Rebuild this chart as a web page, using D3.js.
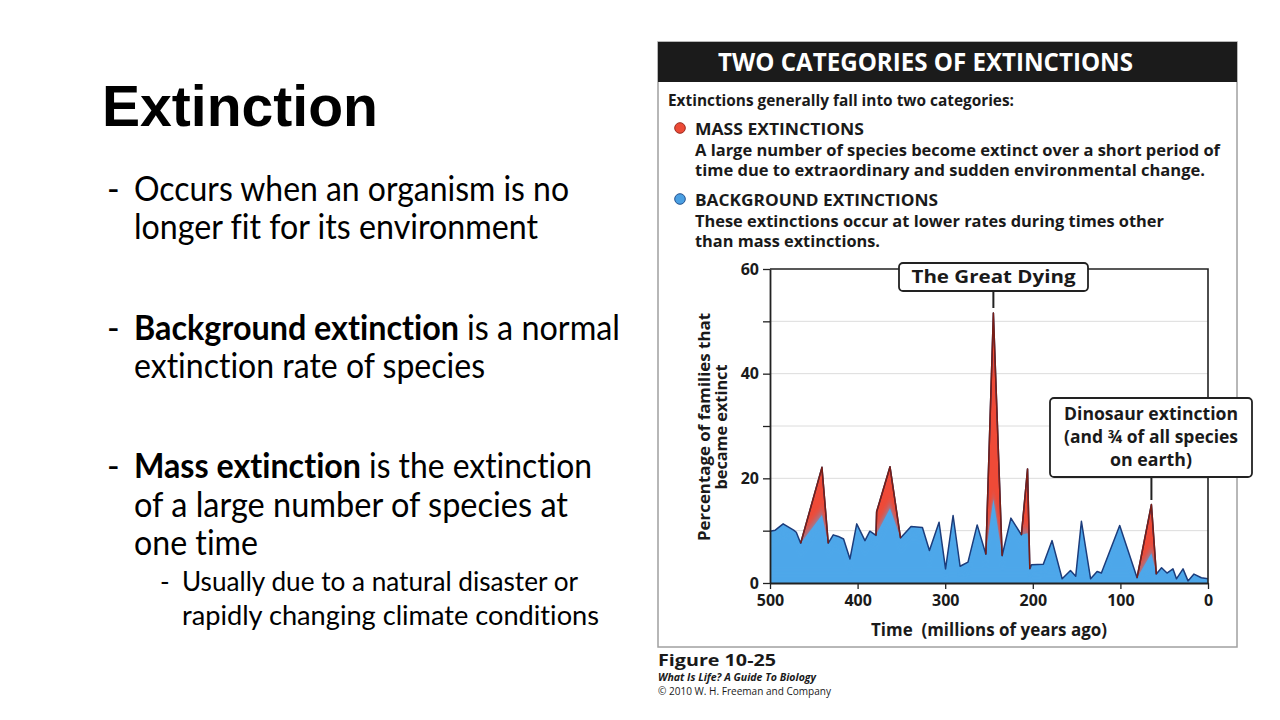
<!DOCTYPE html>
<html><head><meta charset="utf-8">
<script src="https://cdn.jsdelivr.net/npm/d3@7"></script>
<style>body{margin:0;background:#fff;} svg{display:block;} text{font-variant-ligatures:none;font-feature-settings:"liga" 0,"dlig" 0,"clig" 0;}</style>
</head><body>
<svg id="s" width="1280" height="720"></svg>
<script>
// ---------- data ----------
const timeMya = [500, 494, 485, 473, 470, 465, 440.7, 433.5, 427.8, 422, 416, 408.7, 401, 391.6, 386, 379, 378.3, 363, 351, 339, 326, 318, 307, 299.6, 291, 283, 274, 263.5, 253.6, 245, 235, 225, 213, 206, 203.4, 201.5, 188, 178, 166.5, 157, 151, 144.5, 134, 126.6, 121.7, 100.8, 81, 64.6, 59, 53, 46.8, 40, 36, 28.5, 22.8, 16, 7.6, 0];
const totalPct = [9.9, 10.1, 11.3, 10.1, 9.7, 7.6, 22.1, 7.6, 9.2, 8.9, 8.4, 4.6, 11.3, 8.1, 9.9, 9.1, 13.6, 22.2, 8.6, 10.8, 10.6, 6.2, 11.6, 2.7, 12.9, 3.2, 4.0, 11.1, 5.5, 51.6, 5.2, 12.4, 9.2, 21.8, 2.7, 3.5, 3.6, 8.1, 0.8, 2.4, 1.3, 11.8, 0.8, 2.2, 1.9, 11.0, 1.0, 15.0, 1.7, 2.9, 1.9, 2.7, 0.8, 2.7, 0.4, 1.7, 1.0, 0.8];
const backgroundPct = [9.9, 10.1, 11.3, 10.1, 9.7, 7.6, 13.0, 7.6, 9.2, 8.9, 8.4, 4.6, 11.3, 8.1, 9.9, 9.1, 9.4, 14.3, 8.6, 10.8, 10.6, 6.2, 11.6, 2.7, 12.9, 3.2, 4.0, 11.1, 5.5, 16.0, 5.2, 12.4, 9.2, 9.5, 2.7, 3.5, 3.6, 8.1, 0.8, 2.4, 1.3, 11.8, 0.8, 2.2, 1.9, 11.0, 1.0, 5.7, 1.7, 2.9, 1.9, 2.7, 0.8, 2.7, 0.4, 1.7, 1.0, 0.8];
const yTickValues = [0, 10, 20, 30, 40, 50, 60];
const yTickLabels = [0, 20, 40, 60];
const xTickValues = [500, 400, 300, 200, 100, 0];

const slideTitle = "Extinction";
const bulletLines = [
  {lvl:0, dash:true,  parts:[["Occurs when an organism is no",false]]},
  {lvl:0, dash:false, parts:[["longer fit for its environment",false]]},
  {lvl:0, dash:true,  parts:[["Background extinction",true],["is a normal",false]]},
  {lvl:0, dash:false, parts:[["extinction rate of species",false]]},
  {lvl:0, dash:true,  parts:[["Mass extinction",true],["is the extinction",false]]},
  {lvl:0, dash:false, parts:[["of a large number of species at",false]]},
  {lvl:0, dash:false, parts:[["one time",false]]},
  {lvl:1, dash:true,  parts:[["Usually due to a natural disaster or",false]]},
  {lvl:1, dash:false, parts:[["rapidly changing climate conditions",false]]}
];
const bulletBaselines = [201, 239, 340, 378, 478, 517, 555, 591, 625];
// [start, end] x of each part
const bulletSpans = [
  [[134, 569]], [[134, 538]],
  [[134, 459], [467, 620]], [[134, 485]],
  [[134, 361], [369, 592]], [[134, 568]], [[134, 258]],
  [[182, 578]], [[182, 599]]
];

const panelLines = [
  ["Extinctions generally fall into two categories:", 668, 106, 346],
  ["MASS EXTINCTIONS", 695, 135, 169],
  ["A large number of species become extinct over a short period of", 695, 155.5, 525],
  ["time due to extraordinary and sudden environmental change.", 695, 176, 510],
  ["BACKGROUND EXTINCTIONS", 695, 206, 243],
  ["These extinctions occur at lower rates during times other", 695, 227, 469],
  ["than mass extinctions.", 695, 247, 185]
];

// ---------- helpers ----------
const svg = d3.select("#s");
const fit = (sel, w) => sel.attr("textLength", w).attr("lengthAdjust", "spacingAndGlyphs");
const PANEL_FONT = "'Open Sans', 'Noto Sans', sans-serif";
const SLIDE_FONT = "Lato, 'Open Sans', sans-serif";

// ---------- slide text ----------
svg.append("text").attr("x", 102).attr("y", 126)
  .attr("font-family", "'Liberation Sans', Arial, sans-serif").attr("font-weight", 700)
  .attr("font-size", 57).attr("fill", "#000").text(slideTitle).call(fit, 276);

bulletLines.forEach((b, i) => {
  const fs = b.lvl === 0 ? 34 : 26;
  const dx = b.lvl === 0 ? 107 : 160;
  if (b.dash) {
    svg.append("text").attr("x", dx).attr("y", bulletBaselines[i])
      .attr("font-family", SLIDE_FONT).attr("font-size", fs).attr("fill", "#000").text("-");
  }
  b.parts.forEach((p, j) => {
    const span = bulletSpans[i][j];
    svg.append("text").attr("x", span[0]).attr("y", bulletBaselines[i])
      .attr("font-family", SLIDE_FONT).attr("font-size", fs).attr("font-weight", p[1] ? 700 : 400)
      .attr("fill", "#000").text(p[0]).call(fit, span[1] - span[0]);
  });
});

// ---------- panel ----------
svg.append("rect").attr("x", 658).attr("y", 42).attr("width", 579).attr("height", 605)
  .attr("fill", "#fff").attr("stroke", "#a0a0a0").attr("stroke-width", 1.5);
svg.append("rect").attr("x", 658).attr("y", 42).attr("width", 579).attr("height", 40).attr("fill", "#1b1b1b");
svg.append("text").attr("x", 718).attr("y", 71).attr("font-family", PANEL_FONT).attr("font-weight", 700)
  .attr("font-size", 25).attr("fill", "#fff").text("TWO CATEGORIES OF EXTINCTIONS").call(fit, 415);

panelLines.forEach(l => {
  svg.append("text").attr("x", l[1]).attr("y", l[2]).attr("font-family", PANEL_FONT).attr("font-weight", 700)
    .attr("font-size", 16).attr("fill", "#1a1a1a").text(l[0]).call(fit, l[3]);
});
svg.append("circle").attr("cx", 680).attr("cy", 128).attr("r", 5.3).attr("fill", "#ec4a36").attr("stroke", "#9b2a1e").attr("stroke-width", 1);
svg.append("circle").attr("cx", 680).attr("cy", 199).attr("r", 5.3).attr("fill", "#4a9fe2").attr("stroke", "#24528f").attr("stroke-width", 1);

// ---------- chart ----------
const x = d3.scaleLinear().domain([500, 0]).range([770, 1208]);
const y = d3.scaleLinear().domain([0, 60]).range([583, 269]);

const g = svg.append("g");
g.selectAll("line.grid").data(yTickValues.filter(v => v > 0 && v < 60)).join("line")
  .attr("x1", x(500)).attr("x2", x(0)).attr("y1", d => y(d)).attr("y2", d => y(d))
  .attr("stroke", "#dcdcdc").attr("stroke-width", 1);

const idx = d3.range(timeMya.length);
const areaTotal = d3.area().x(i => x(timeMya[i])).y0(y(0)).y1(i => y(totalPct[i]));
const areaBg = d3.area().x(i => x(timeMya[i])).y0(y(0)).y1(i => y(backgroundPct[i]));
const lineTotal = d3.line().x(i => x(timeMya[i])).y(i => y(totalPct[i]));

const defs = svg.append("defs");
defs.append("clipPath").attr("id", "totClip").append("path").attr("d", areaTotal(idx));
const f = defs.append("filter").attr("id", "soft").attr("x", "-10%").attr("y", "-50%").attr("width", "120%").attr("height", "200%");
f.append("feGaussianBlur").attr("stdDeviation", "1.2 7");

g.append("path").attr("d", areaTotal(idx)).attr("fill", "#ef4a37");
g.append("path").attr("d", areaBg(idx)).attr("fill", "#4ea7ea");
g.append("g").attr("clip-path", "url(#totClip)")
  .append("path").attr("d", areaBg(idx)).attr("fill", "#4ea7ea").attr("filter", "url(#soft)");
g.append("path").attr("d", lineTotal(idx)).attr("fill", "none").attr("stroke", "#1c3d7c").attr("stroke-width", 1.5).attr("stroke-linejoin", "round");

// mass-extinction segments outlined in dark red
const segs = [];
idx.forEach(i => {
  if (backgroundPct[i] < totalPct[i]) {
    const s = [i - 1, i, i + 1];
    const last = segs[segs.length - 1];
    if (last && last[last.length - 1] >= i - 1) { s.forEach(k => { if (!last.includes(k)) last.push(k); }); }
    else segs.push(s);
  }
});
segs.forEach(s => {
  g.append("path").attr("d", lineTotal(s)).attr("fill", "none").attr("stroke", "#7a1d14").attr("stroke-width", 1.5).attr("stroke-linejoin", "round");
});

// frame
g.append("path").attr("d", `M${x(500)},${y(60)}H${x(0)}V${y(0)}`).attr("fill", "none").attr("stroke", "#222").attr("stroke-width", 1.6);

const yAxis = g.append("g").attr("transform", `translate(${x(500)},0)`)
  .call(d3.axisLeft(y).tickValues(yTickValues).tickSize(7).tickSizeOuter(0).tickPadding(4)
    .tickFormat(d => yTickLabels.includes(d) ? d : ""));
const xAxis = g.append("g").attr("transform", `translate(0,${y(0)})`)
  .call(d3.axisBottom(x).tickValues(xTickValues).tickSize(6).tickSizeOuter(0).tickPadding(6));
[yAxis, xAxis].forEach(a => {
  a.select(".domain").attr("stroke", "#222").attr("stroke-width", 1.8);
  a.selectAll(".tick line").attr("stroke", "#222").attr("stroke-width", 1.3);
  a.selectAll(".tick text").attr("font-family", PANEL_FONT).attr("font-weight", 700).attr("font-size", 16).attr("fill", "#1a1a1a");
});

svg.append("text").attr("x", 989).attr("y", 636).attr("text-anchor", "middle").attr("font-family", PANEL_FONT)
  .attr("font-weight", 700).attr("font-size", 17).attr("fill", "#1a1a1a").attr("xml:space", "preserve")
  .text("Time  (millions of years ago)").call(fit, 236);
const yl = svg.append("g").attr("transform", "rotate(-90)");
yl.append("text").attr("x", -427).attr("y", 710).attr("text-anchor", "middle").attr("font-family", PANEL_FONT)
  .attr("font-weight", 700).attr("font-size", 16).attr("fill", "#1a1a1a").text("Percentage of families that").call(fit, 228);
yl.append("text").attr("x", -427).attr("y", 727).attr("text-anchor", "middle").attr("font-family", PANEL_FONT)
  .attr("font-weight", 700).attr("font-size", 16).attr("fill", "#1a1a1a").text("became extinct").call(fit, 125);

// callouts
const gdx = x(timeMya[totalPct.indexOf(d3.max(totalPct))]);
svg.append("line").attr("x1", gdx).attr("x2", gdx).attr("y1", 291).attr("y2", 308).attr("stroke", "#222").attr("stroke-width", 2);
svg.append("rect").attr("x", 899).attr("y", 263).attr("width", 189).attr("height", 28).attr("rx", 4)
  .attr("fill", "#fff").attr("stroke", "#222").attr("stroke-width", 1.8);
svg.append("text").attr("x", 993.5).attr("y", 283).attr("text-anchor", "middle").attr("font-family", PANEL_FONT)
  .attr("font-weight", 700).attr("font-size", 17).attr("fill", "#1a1a1a").text("The Great Dying").call(fit, 164);

const dinoX = x(64.6);
svg.append("line").attr("x1", dinoX).attr("x2", dinoX).attr("y1", 477).attr("y2", 500).attr("stroke", "#222").attr("stroke-width", 2);
svg.append("rect").attr("x", 1050).attr("y", 398).attr("width", 202).attr("height", 79).attr("rx", 4)
  .attr("fill", "#fff").attr("stroke", "#222").attr("stroke-width", 1.8);
[["Dinosaur extinction", 420, 174], ["(and \u00BE of all species", 443, 174], ["on earth)", 466, 82]].forEach(l => {
  svg.append("text").attr("x", 1151).attr("y", l[1]).attr("text-anchor", "middle").attr("font-family", PANEL_FONT)
    .attr("font-weight", 700).attr("font-size", 17).attr("fill", "#1a1a1a").text(l[0]).call(fit, l[2]);
});

// caption
svg.append("text").attr("x", 658).attr("y", 666).attr("font-family", PANEL_FONT).attr("font-weight", 700)
  .attr("font-size", 16).attr("fill", "#1a1a1a").text("Figure 10-25").call(fit, 118);
svg.append("text").attr("x", 658).attr("y", 681).attr("font-family", PANEL_FONT).attr("font-weight", 700).attr("font-style", "italic")
  .attr("font-size", 10).attr("fill", "#1a1a1a").text("What Is Life? A Guide To Biology").call(fit, 158);
svg.append("text").attr("x", 658).attr("y", 694.5).attr("font-family", PANEL_FONT)
  .attr("font-size", 10).attr("fill", "#1a1a1a").text("\u00A9 2010 W. H. Freeman and Company").call(fit, 173);
</script>
</body></html>
